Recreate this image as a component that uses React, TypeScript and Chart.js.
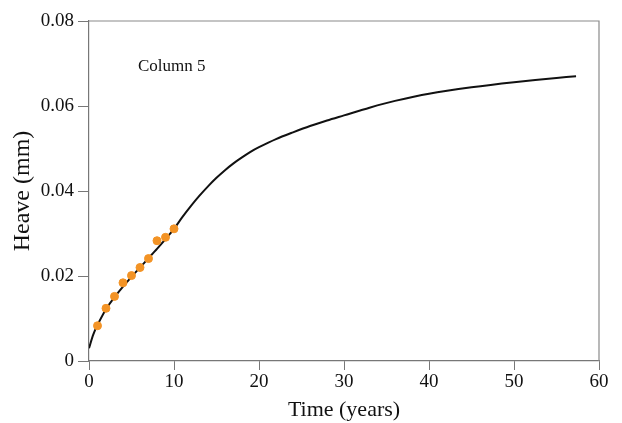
import React, { useEffect, useRef } from "react";
import { Chart, registerables } from "chart.js";

Chart.register(...registerables);

const curveYears = [0, 0.5, 1, 2, 3, 4, 5, 6, 7, 8, 9, 10, 11, 12, 13, 14, 15, 16, 17, 18, 19, 20, 22, 24, 26, 28, 30, 33, 36, 40, 45, 50, 55, 57.3];
const curveHeave = [0.003, 0.0062, 0.0085, 0.0122, 0.015, 0.0175, 0.0198, 0.022, 0.0242, 0.0264, 0.0287, 0.0311, 0.0339, 0.0365, 0.0389, 0.0411, 0.0431, 0.0449, 0.0465, 0.0479, 0.0492, 0.0503, 0.0522, 0.0538, 0.0553, 0.0566, 0.0578, 0.0596, 0.0612, 0.0629, 0.0644, 0.0656, 0.0666, 0.067];

const obsYears = [1, 2, 3, 4, 5, 6, 7, 8, 9, 10];
const obsHeave = [0.0083, 0.0124, 0.0152, 0.0184, 0.0201, 0.022, 0.0241, 0.0283, 0.0291, 0.0311];

const xTicks = [0, 10, 20, 30, 40, 50, 60];
const yTicks = [0, 0.02, 0.04, 0.06, 0.08];

const annotationText = "Column 5";
const FONT = "'Liberation Serif', 'Times New Roman', serif";

export default function App() {
  const ref = useRef<HTMLCanvasElement>(null);
  useEffect(() => {
    document.body.style.margin = "0";
    const boxPlugin = {
      id: "boxAndLabel",
      afterDraw(chart: any) {
        const { ctx, chartArea, scales } = chart;
        ctx.save();
        ctx.strokeStyle = "#8a8a8a";
        ctx.lineWidth = 1.2;
        ctx.beginPath();
        ctx.moveTo(chartArea.left, chartArea.top);
        ctx.lineTo(chartArea.right, chartArea.top);
        ctx.lineTo(chartArea.right, chartArea.bottom);
        ctx.stroke();
        ctx.fillStyle = "#111";
        ctx.font = `17px ${FONT}`;
        ctx.textAlign = "left";
        ctx.textBaseline = "middle";
        ctx.fillText(annotationText, scales.x.getPixelForValue(5.75), scales.y.getPixelForValue(0.0694));
        ctx.restore();
      },
    };
    const chart = new Chart(ref.current!, {
      type: "scatter",
      data: {
        datasets: [
          {
            type: "line",
            data: curveYears.map((x, i) => ({ x, y: curveHeave[i] })),
            borderColor: "#111",
            borderWidth: 2,
            pointRadius: 0,
            tension: 0.3,
            fill: false,
            order: 2,
          } as any,
          {
            type: "scatter",
            data: obsYears.map((x, i) => ({ x, y: obsHeave[i] })),
            backgroundColor: "#f39325",
            borderColor: "#f39325",
            pointRadius: 4,
            order: 1,
          },
        ],
      },
      options: {
        animation: false,
        responsive: false,
        maintainAspectRatio: false,
        layout: { padding: { top: 21, right: 23, left: 0, bottom: 0 } },
        plugins: { legend: { display: false }, tooltip: { enabled: false } },
        scales: {
          x: {
            type: "linear",
            min: 0,
            max: 60,
            afterBuildTicks: (s: any) => { s.ticks = xTicks.map((v) => ({ value: v })); },
            afterFit: (s: any) => { s.height = 62; },
            grid: { drawOnChartArea: false, drawTicks: true, tickLength: 9, color: "#777" },
            border: { color: "#777", width: 1.2 },
            ticks: { color: "#111", font: { family: FONT, size: 19 }, padding: 1, maxRotation: 0 },
            title: { display: true, text: "Time (years)", color: "#111", font: { family: FONT, size: 22 }, padding: { top: 0, bottom: 0 } },
          },
          y: {
            type: "linear",
            min: 0,
            max: 0.08,
            afterBuildTicks: (s: any) => { s.ticks = yTicks.map((v) => ({ value: v })); },
            afterFit: (s: any) => { s.width = 89; },
            grid: { drawOnChartArea: false, drawTicks: true, tickLength: 11, color: "#777" },
            border: { color: "#777", width: 1.2 },
            ticks: { color: "#111", font: { family: FONT, size: 19 }, padding: 4, callback: (v: any) => (v === 0 ? "0" : Number(v).toFixed(2)) },
            title: { display: true, text: "Heave (mm)", color: "#111", font: { family: FONT, size: 24 }, padding: { top: 8, bottom: 0 } },
          },
        },
      },
      plugins: [boxPlugin],
    });
    return () => chart.destroy();
  }, []);
  return (
    <div style={{ width: 622, height: 423, background: "#fff" }}>
      <canvas ref={ref} width={622} height={423} style={{ display: "block" }} />
    </div>
  );
}
